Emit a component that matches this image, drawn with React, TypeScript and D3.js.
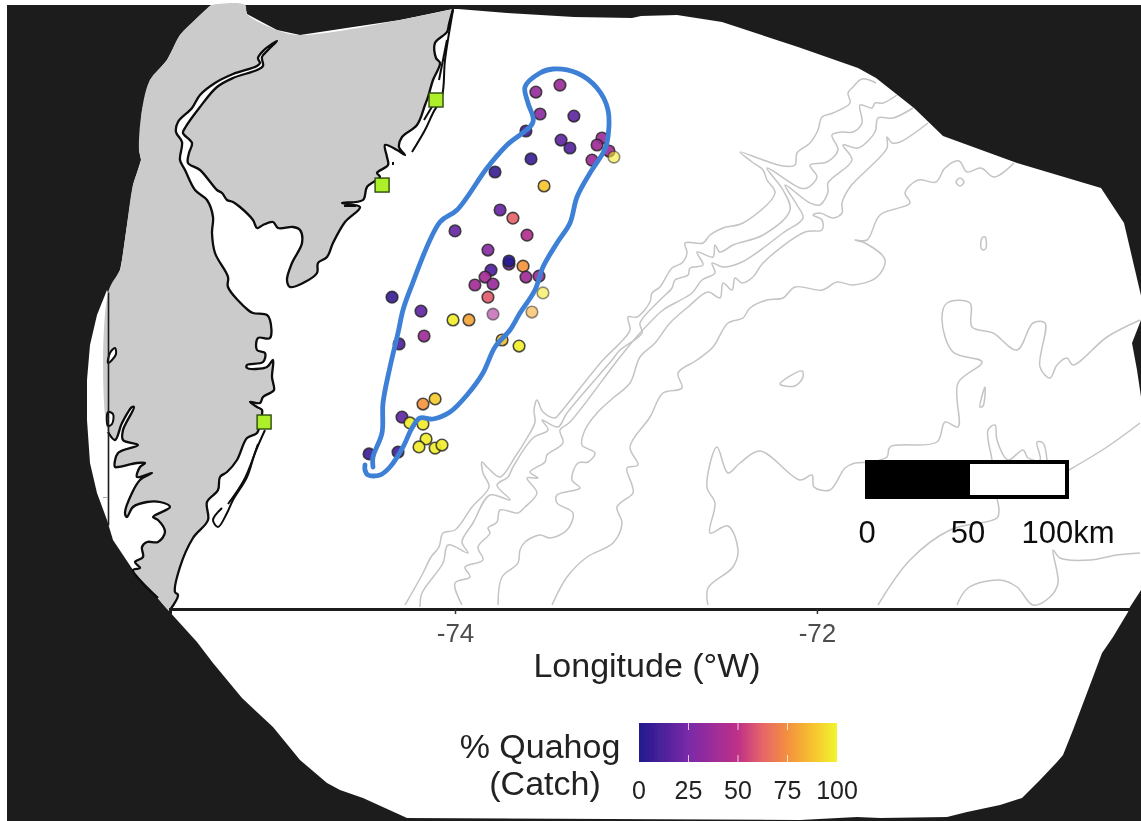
import React, { useEffect, useRef } from 'react';
import * as d3 from 'd3';

type Pt = [number, number];

// survey tows: longitude, latitude, percent quahog in the catch
const towLon = [-73.553, -73.42, -73.53, -73.343, -73.608, -73.414, -73.365, -73.188, -73.215, -73.149, -73.122, -73.243, -73.58, -73.779, -73.508, -73.751, -73.68, -74.0, -73.602, -73.818, -73.702, -73.702, -73.624, -73.801, -73.608, -73.536, -73.834, -73.89, -73.79, -73.818, -73.514, -74.348, -74.188, -73.79, -74.011, -73.923, -73.575, -74.171, -74.309, -73.74, -73.646, -74.11, -74.177, -74.293, -74.249, -74.177, -74.16, -74.199, -74.11, -74.072, -74.315, -74.475];
const towLat = [39.738, 39.768, 39.644, 39.635, 39.571, 39.532, 39.498, 39.541, 39.511, 39.485, 39.459, 39.446, 39.451, 39.395, 39.335, 39.232, 39.197, 39.142, 39.124, 39.06, 39.0, 39.013, 38.991, 38.974, 38.944, 38.948, 38.944, 38.91, 38.914, 38.858, 38.876, 38.858, 38.798, 38.785, 38.76, 38.76, 38.794, 38.691, 38.657, 38.674, 38.648, 38.421, 38.399, 38.343, 38.318, 38.313, 38.249, 38.215, 38.21, 38.223, 38.193, 38.185];
const towPct = [35, 37, 32, 18, 10, 18, 15, 38, 38, 40, 97, 38, 8, 7, 88, 20, 62, 20, 45, 30, 25, 2, 76, 13, 38, 40, 40, 40, 36, 60, 97, 7, 18, 42, 98, 80, 82, 38, 13, 86, 99, 90, 76, 18, 98, 97, 98, 98, 98, 98, 10, 8];
// tows drawn paler in the source figure
const paleTows = [10, 30, 33, 36];

const portLon = [-74.105, -74.403, -75.055];
const portLat = [39.704, 39.339, 38.322];

const lonTicks = [-74, -72];
const latTicks = [38];
const legendTicks = [0, 25, 50, 75, 100];
const scaleBarLabels = ['0', '50', '100km'];
const scaleBarStops = [0, 50, 100];

// colour ramp
const rampStops = [0, 25, 50, 62, 75, 88, 100];
const rampColors = ['#211a8e', '#7a2aa8', '#bf3088', '#e5646a', '#f4903f', '#f7c42f', '#f0f52d'];

// outlines are traced in sheet units, east and south of the sheet's corner
const northwestEdge: Pt[] = [[54, 146.5], [60, 135], [61, 130], [63.5, 112.5], [66.5, 92.5], [70.5, 80], [69.5, 75], [71, 55], [75, 40], [83.5, 30], [90, 17.5], [98.5, 9], [105, 3], [106, 2.5], [122.5, 2.5], [123.5, 7], [138.5, 15], [150, 17.5], [200, 10], [226.5, 4.5]];
const sheetRest: Pt[] = [[229, 4.5], [253.5, 6.5], [287, 8.5], [316, 9], [320.5, 8], [338.5, 7.5], [361, 11], [399, 23.5], [429, 34], [438, 39], [457, 54], [471.5, 68], [508.5, 81.5], [550.5, 94], [562, 111.5], [567.5, 135], [571, 150], [570.5, 160], [566, 171.5], [568.5, 185], [570.5, 198.5], [570.5, 295], [565, 303.5], [564, 306], [556.5, 318.5], [551, 326.5], [546.5, 338.5], [536.5, 365], [531.5, 377.5], [528.5, 381], [520, 390], [511, 399], [500, 402.5], [483.5, 406], [473.5, 408.5], [440, 409], [428.5, 408.5], [400, 410], [203.5, 409], [181.5, 399], [170, 395], [163.5, 391.5], [150, 380], [136.5, 363.5], [121, 349], [106.5, 331.5], [98.5, 321], [84, 305], [66.5, 285], [56.5, 270], [53.5, 260], [48.5, 246.5], [45, 231.5], [43.5, 210], [43.5, 190], [45, 172.5], [48.5, 157.5], [53.5, 145]];

const eastCoast: Pt[] = [[226.5, 4.5], [224.5, 12], [223.5, 16], [217.5, 21.5], [218, 29], [220, 31.5], [216.5, 40], [214, 48.5], [212.5, 52.5], [208.5, 62.5], [201, 68.5], [199.5, 73.5], [202.5, 77.5], [198.5, 75], [192.5, 72.5], [193.5, 78.5], [194, 82.5], [188.5, 86.5], [190, 88.5], [183.5, 93.5], [181.5, 100], [171, 101.5], [180, 103.5], [172.5, 111], [166.5, 121.5], [163.5, 128.5], [159, 131.5], [158.5, 136.5], [151.5, 141.5], [145, 143.5], [143.5, 140], [146, 131.5], [151, 121.5], [150, 115], [146.5, 113.5], [139, 114], [136.5, 111], [131.5, 112.5], [128.5, 114], [126.5, 110], [120, 103.5], [116.5, 101], [113.5, 100], [111, 96.5], [108.5, 95], [100, 85], [94, 81.5], [94.5, 76.5], [96, 71.5], [91.5, 66.5], [92.5, 64], [100, 53.5], [108.5, 43.5], [116.5, 39], [128.5, 35], [131.5, 33], [131, 28.5], [134, 25], [138.5, 20.5], [136, 22], [132, 25], [129, 29], [130, 31.5], [128.5, 33], [116.5, 37], [107.5, 41.5], [100, 47.5], [96, 54], [89, 61], [88, 66], [91, 71], [90, 80], [92.5, 85], [97.5, 95], [103.5, 100], [106.5, 108.5], [106, 116.5], [107.5, 126.5], [114, 138.5], [114, 143.5], [124, 155], [126.5, 156.5], [133.5, 157.5], [135, 160], [135, 169], [129, 169], [128.5, 175], [132.5, 176.5], [131.5, 181], [123.5, 182.5], [123.5, 184], [133.5, 183.5], [136.5, 180], [136, 188.5], [137, 195], [135, 196.5], [131.5, 198.5], [130, 201.5], [125, 201], [128.5, 203.5], [131, 205], [130, 211.5], [128.5, 216.5], [123.5, 219], [118.5, 230], [113.5, 236], [110, 238.5], [109, 245], [103.5, 251], [104, 260], [96.5, 269], [90, 283.5], [87.5, 296], [89, 297.5], [85, 305]];
const westCoast: Pt[] = [[79, 299], [66.5, 285], [70, 284], [67.5, 281], [71.5, 278.5], [71, 273.5], [73.5, 271], [79, 271], [82.5, 266], [79, 260], [76.5, 258.5], [85, 253.5], [80, 251], [73.5, 251], [66.5, 253.5], [63.5, 258.5], [62.5, 256.5], [66, 246.5], [70, 240], [76, 236.5], [68.5, 238.5], [70, 233.5], [72.5, 231.5], [68.5, 231.5], [59, 233.5], [57.5, 233.5], [59, 226.5], [69, 222.5], [61.5, 220], [61.5, 215], [67, 203.5], [66, 203.5], [61, 211.5], [57.5, 220], [54, 216]];
const barrierIslands: Pt[][] = [
  [[226.5, 5], [222.5, 30], [221, 48], [216.5, 56.5], [212.5, 65], [206, 76]],
  [[223.5, 20], [219.5, 40]],
  [[218, 50], [212, 60]],
  [[132.5, 215], [127.5, 226.5], [123.5, 238.5], [116.5, 250], [113.5, 256.5], [109, 263.5], [106.5, 260], [111, 254]],
  [[129, 222], [122, 240], [114, 252]],
  [[196.5, 81], [196.5, 82.5]],
  [[172, 103], [178, 103]],
];
const inlets: Pt[][] = [
  [[57.5, 174], [55, 176.5], [54, 181.5], [56, 180], [58, 177]],
  [[54, 206], [56.5, 207], [56, 212], [54, 213]],
];

const surveyArea: Pt[] = [[186.5, 233.5], [186.5, 228.5], [191, 216.5], [191.5, 201.5], [195, 183.5], [199, 166.5], [201.5, 155], [205, 145], [220, 111], [228.5, 105], [243.5, 84], [253.5, 72.5], [266.5, 61], [264, 51.5], [262.5, 43.5], [270, 36.5], [276.5, 34.5], [288.5, 36.5], [298.5, 44], [304, 55], [303.5, 71.5], [301.5, 76.5], [295, 86.5], [288.5, 98.5], [285, 111.5], [278.5, 121.5], [271.5, 133.5], [267.5, 145], [260, 156.5], [255, 165], [247.5, 173.5], [241.5, 186.5], [233.5, 197.5], [225, 206], [216.5, 209.5], [210, 209], [206, 214], [201.5, 223.5], [195, 233.5], [190, 237.5], [184, 237.5], [182.5, 235], [182.5, 232.5]];

const depthContours: Pt[][] = [
  [[438, 41.5], [431, 39.5], [426.5, 43.5], [424, 46.5], [425, 51.5], [416.5, 56.5], [411, 58.5], [409, 65], [405, 71.5], [398.5, 76.5], [397.5, 82.5], [391.5, 83], [381.5, 80], [370, 76], [376, 81], [381.5, 85], [383.5, 90], [387.5, 96.5], [371.5, 111.5], [361.5, 114], [355, 117.5], [351.5, 121.5], [342.5, 121.5], [343.5, 126.5], [341, 131.5], [336, 134], [330, 143.5], [326, 146.5], [325, 151], [318.5, 158.5], [314, 158.5], [315, 165], [310, 171.5], [301.5, 180], [280, 206.5], [277.5, 209], [271.5, 206], [268.5, 200], [267, 205], [267.5, 211], [263.5, 219], [257.5, 228.5], [250, 238.5], [244, 234], [241, 231], [241.5, 236.5], [244.5, 243.5], [236, 253.5], [227.5, 265], [221.5, 266.5], [219.5, 273.5], [215.5, 278.5], [211.5, 286.5], [202.5, 302.5]],
  [[448.5, 47.5], [441.5, 51.5], [437.5, 51.5], [436, 54], [430, 52.5], [431, 61.5], [426.5, 66], [421, 66], [416, 67.5], [419, 75], [413.5, 81], [405, 82.5], [408.5, 88.5], [403.5, 94], [400, 94], [383.5, 84], [391.5, 95], [395, 105], [381.5, 117.5], [366.5, 122.5], [360, 126], [357.5, 122.5], [356.5, 128.5], [348.5, 126], [351.5, 132.5], [345, 134], [344, 137.5], [337.5, 140], [336, 144], [330, 150], [320, 161.5], [321, 166.5], [310, 175], [306, 180], [283.5, 206.5], [279, 213.5], [271, 210], [274, 215], [266.5, 219], [256.5, 233.5], [254, 238.5], [248.5, 242.5], [255, 250], [245, 247.5], [236.5, 261.5], [231, 271], [234, 276.5], [224, 272.5], [221.5, 281.5], [211, 296.5], [210, 303.5]],
  [[456.5, 54], [446.5, 59], [439, 59], [437.5, 66], [429, 74], [421.5, 72.5], [426, 80], [414, 91.5], [414, 96], [410, 102.5], [405, 101.5], [392.5, 92.5], [398.5, 102.5], [401.5, 109], [391.5, 116.5], [371, 131], [361.5, 133.5], [356, 131.5], [357.5, 136.5], [351, 140], [346, 146.5], [337.5, 151.5], [331.5, 155], [320, 166.5], [310, 178.5], [285, 211], [280, 215], [281.5, 221.5], [273.5, 227.5], [272.5, 231], [265, 236], [269, 239], [263.5, 239], [268.5, 246.5], [262.5, 253.5], [259, 256.5], [250, 255], [248.5, 261], [244, 264], [245, 266.5], [239, 273.5], [241.5, 280], [232.5, 283.5], [235, 288.5], [227.5, 291.5], [231, 302.5]],
  [[464, 61.5], [450, 71], [446, 71.5], [443.5, 68.5], [443.5, 74], [425, 93.5], [421, 101.5], [421, 106.5], [416.5, 109], [410, 106.5], [406.5, 107.5], [411, 110], [411, 115], [402.5, 116], [381.5, 131.5], [376.5, 138.5], [371, 141.5], [367.5, 139], [366, 145], [361.5, 141.5], [360, 149], [354, 146], [344, 153.5], [335, 161.5], [327.5, 171.5], [320, 178.5], [315, 191.5], [306.5, 199], [298.5, 206.5], [292.5, 215], [291, 222.5], [297.5, 226.5], [294, 231], [289, 231.5], [286, 240], [290, 244], [278.5, 247.5], [278.5, 251.5], [286.5, 256.5], [283.5, 265], [275, 269], [270, 267.5], [262.5, 271], [260, 275], [259, 281.5], [251, 288.5], [249, 302.5]],
  [[507, 81.5], [497, 88.5], [490.5, 84], [483.5, 86], [479.5, 80.5], [472.5, 84], [468, 91], [459, 90], [452.5, 96.5], [455, 101.5], [440, 107.5], [433.5, 120], [427.5, 120], [432.5, 121.5], [442.5, 130], [438.5, 138.5], [426.5, 142.5], [418.5, 141], [411, 145], [397.5, 143.5], [391.5, 149], [383.5, 150], [375, 154], [371.5, 159], [364, 161.5], [356.5, 173.5], [348.5, 180], [339, 186.5], [341, 194], [331.5, 196.5], [325, 208.5], [315, 223.5], [319, 232.5], [313.5, 234], [316, 242.5], [316.5, 246.5], [308.5, 253.5], [311, 261.5], [306.5, 271.5], [293.5, 278.5], [283.5, 288.5], [276, 302.5]],
  [[354, 302.5], [354, 294], [366.5, 283.5], [369, 275], [364, 263], [355, 266.5], [357.5, 251.5], [353.5, 243.5], [358.5, 223.5], [364, 236.5], [370, 231.5], [380, 225.5], [400, 240], [406, 237.5], [407, 243.5], [415, 245], [422.5, 234], [427.5, 231.5], [435, 231], [443.5, 228.5], [445, 223.5], [468.5, 221], [472.5, 211], [479, 213.5], [479, 191.5], [491, 181], [476.5, 176], [471, 160], [473.5, 151.5], [485, 151.5], [486, 163.5], [496.5, 166.5], [508.5, 175], [516.5, 161.5], [522.5, 161.5], [520, 183.5], [525, 189], [528.5, 182.5], [533.5, 179], [536.5, 182.5], [553.5, 168.5], [570, 160]],
  [[439, 302.5], [455, 280], [475, 265], [498.5, 259], [499.5, 255], [498.5, 249], [496, 230], [494, 215], [497.5, 212.5], [498.5, 220], [504, 230], [511.5, 225], [514, 229], [520, 230], [518.5, 221], [521.5, 221.5], [523.5, 230]],
  [[534.5, 235], [553.5, 223.5], [570, 211.5]],
  [[478.5, 302.5], [484, 294], [500, 290], [508.5, 293.5], [516.5, 302.5], [525, 298.5], [529, 291.5], [526.5, 275], [530, 279], [545, 280], [558.5, 277.5], [570, 276.5]],
];
const contourIslands: Pt[][] = [
  [[490.5, 124], [491, 119], [492.5, 118.5], [493, 124], [491.5, 125]],
  [[480, 89], [482, 91], [480, 93], [478, 91]],
  [[390, 192], [401, 185.5], [401.5, 188.5], [397.5, 193]],
  [[492.5, 193.5], [491.5, 203], [490, 203.5], [491, 198]],
];

const width = 1141;
const height = 821;
const labelFont = '"Liberation Sans", Arial, sans-serif';

const sheetX = d3.scaleLinear([0, 570.5], [0, width]);
const sheetY = d3.scaleLinear([0, 410.5], [0, height]);
const lonScale = d3.scaleLinear([-75.575, -70.27], [170, 1130]);
const latScale = d3.scaleLinear([37.88, 38.88], [525, 292]);
const pctScale = d3.scaleLinear([0, 100], [639, 837]);
const barScale = d3.scaleLinear([0, 100], [866, 1068]);
const ramp = d3.scaleLinear<string>().domain(rampStops).range(rampColors).interpolate(d3.interpolateRgb);

const sheetLine = d3.line<Pt>().x(d => sheetX(d[0])).y(d => sheetY(d[1]));
const softLine = d3.line<Pt>().x(d => sheetX(d[0])).y(d => sheetY(d[1])).curve(d3.curveCatmullRom.alpha(0.5));
const softLoop = d3.line<Pt>().x(d => sheetX(d[0])).y(d => sheetY(d[1])).curve(d3.curveCatmullRomClosed.alpha(0.5));

export default function App() {
  const gx = useRef<SVGGElement>(null);
  const gy = useRef<SVGGElement>(null);

  useEffect(() => {
    const axis = d3.axisBottom(lonScale).tickValues(lonTicks).tickSize(5).tickPadding(9.5).tickFormat(d => String(d));
    const g = d3.select(gx.current!).call(axis as any);
    g.select('.domain').attr('stroke', '#1a1a1a').attr('stroke-width', 3);
    g.selectAll('.tick line').attr('stroke', '#333').attr('stroke-width', 1.5);
    g.selectAll('.tick text').attr('fill', '#4d4d4d').style('font-size', '26px').style('font-family', labelFont);
  }, []);

  useEffect(() => {
    const axis = d3.axisLeft(latScale).tickValues(latTicks).tickSize(5).tickSizeOuter(0).tickFormat(() => '');
    const g = d3.select(gy.current!).call(axis as any);
    g.select('.domain').attr('stroke', '#1a1a1a').attr('stroke-width', 1.6);
    g.selectAll('.tick line').attr('stroke', '#aaa').attr('stroke-width', 1);
  }, []);

  return (
    <svg width={width} height={height} style={{ position: 'absolute', left: 0, top: 0, display: 'block' }} fontFamily={labelFont}>
      <defs>
        <filter id="soft" x="0" y="0" width={width} height={height} filterUnits="userSpaceOnUse">
          <feGaussianBlur stdDeviation="0.7" />
        </filter>
        <linearGradient id="plasmaBar">
          {rampStops.map((s, i) => (
            <stop key={s} offset={s / 100} stopColor={rampColors[i]} />
          ))}
        </linearGradient>
      </defs>
      <rect width={width} height={height} fill="#fff" />
      <g filter="url(#soft)">
        <rect x={7} y={5} width={width - 7} height={height - 5} fill="#1f1f1f" />
        <path d={sheetLine([...northwestEdge, ...sheetRest])! + 'Z'} fill="#fff" />

        <g fill="none" stroke="#c4c4c4" strokeWidth={1.5}>
          {depthContours.map((c, i) => <path key={i} d={softLine(c)!} />)}
          {contourIslands.map((c, i) => <path key={i} d={softLoop(c)!} />)}
        </g>

        <path d={softLine([...eastCoast, ...westCoast, ...northwestEdge])! + 'Z'} fill="#cbcbcb" />
        <path d={softLine(eastCoast)!} fill="none" stroke="#0a0a0a" strokeWidth={2.3} strokeLinejoin="round" />
        <path d={softLine(westCoast)!} fill="none" stroke="#0a0a0a" strokeWidth={2.3} strokeLinejoin="round" />
        {barrierIslands.map((b, i) => (
          <path key={i} d={softLine(b)!} fill="none" stroke="#0a0a0a" strokeWidth={2} strokeLinejoin="round" />
        ))}
        {inlets.map((b, i) => (
          <path key={i} d={softLoop(b)!} fill="#fff" stroke="#0a0a0a" strokeWidth={2} />
        ))}

        {portLon.map((lon, i) => (
          <rect key={i} x={lonScale(lon) - 7} y={latScale(portLat[i]) - 7} width={14} height={14} fill="#adf02a" stroke="#2c4a10" strokeWidth={1.4} />
        ))}

        {towLon.map((lon, i) => (
          <circle key={i} cx={lonScale(lon)} cy={latScale(towLat[i])} r={5.8} fill={ramp(towPct[i])} fillOpacity={paleTows.includes(i) ? 0.6 : 0.92} stroke="#222" strokeOpacity={paleTows.includes(i) ? 0.5 : 0.8} strokeWidth={1.6} />
        ))}

        <path d={softLine(surveyArea)!} fill="none" stroke="#3c80d6" strokeWidth={4.8} strokeLinecap="round" strokeLinejoin="round" />

        <g ref={gx} transform="translate(0,609)" />
        <g ref={gy} transform="translate(108,0)" />
        <text x={647} y={677} textAnchor="middle" fontSize={34} fill="#222">Longitude (°W)</text>

        <rect x={barScale(0) + 1} y={462} width={barScale(100) - barScale(0) - 2} height={35} fill="#fff" stroke="#000" strokeWidth={4} />
        <rect x={barScale(0) + 1} y={462} width={barScale(50) - barScale(0)} height={35} fill="#000" stroke="#000" strokeWidth={4} />
        {scaleBarLabels.map((t, i) => (
          <text key={t} x={barScale(scaleBarStops[i])} y={543} textAnchor="middle" fontSize={31} fill="#111" dx={i === 2 ? 0 : 1}>{t}</text>
        ))}

        <text x={540} y={758} textAnchor="middle" fontSize={34} fill="#222">% Quahog</text>
        <text x={545} y={795} textAnchor="middle" fontSize={34} fill="#222">(Catch)</text>
        <rect x={pctScale(0)} y={723} width={pctScale(100) - pctScale(0)} height={39} fill="url(#plasmaBar)" />
        {legendTicks.slice(1, -1).map(t => (
          <g key={t} stroke="#fff" strokeOpacity={0.75} strokeWidth={1}>
            <line x1={pctScale(t)} x2={pctScale(t)} y1={723} y2={730} />
            <line x1={pctScale(t)} x2={pctScale(t)} y1={755} y2={762} />
          </g>
        ))}
        {legendTicks.map(t => (
          <text key={t} x={pctScale(t)} y={799} textAnchor="middle" fontSize={25} fill="#222">{t}</text>
        ))}
      </g>
    </svg>
  );
}
